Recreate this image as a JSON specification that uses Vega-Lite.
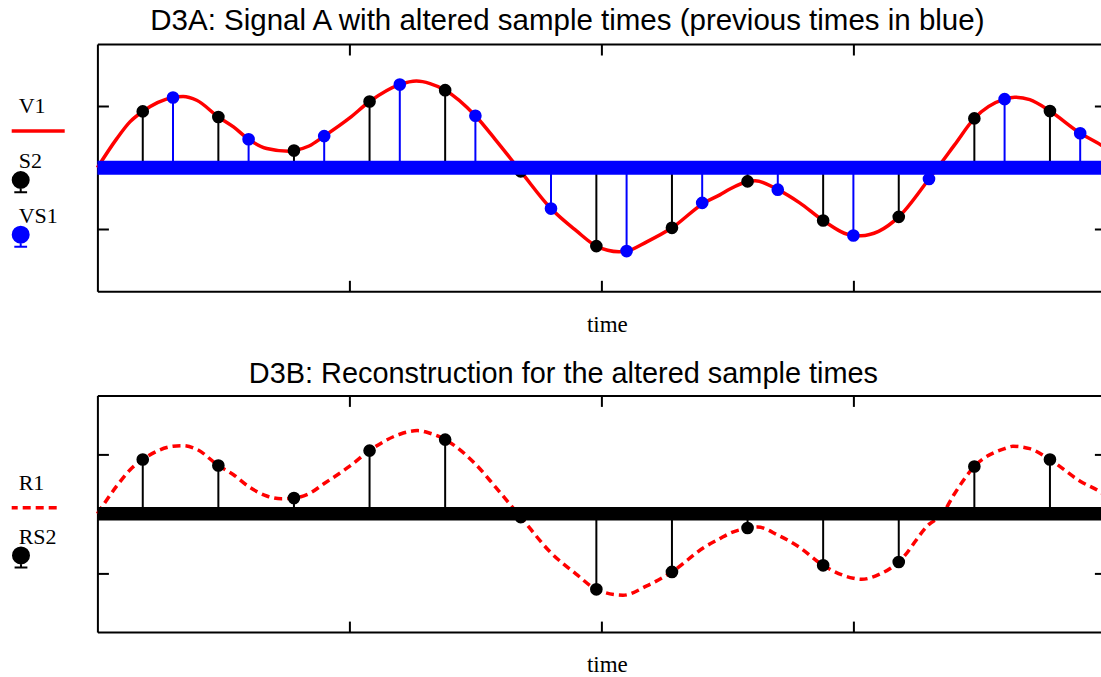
{
  "$schema": "https://vega.github.io/schema/vega-lite/v6.json",
  "background": "white",
  "padding": {"left": 8.7, "top": 6, "right": 0, "bottom": 0},
  "config": {"view": {"stroke": null}, "font": "Liberation Sans", "axis": {"grid": false, "minExtent": 0, "maxExtent": 0}},
  "datasets": {
    "sig": [{"t":0,"v":0},{"t":0.077,"v":0.47},{"t":0.129,"v":0.74},{"t":0.18,"v":0.91},{"t":0.3,"v":1.135},{"t":0.34,"v":1.15},{"t":0.394,"v":1.09},{"t":0.48,"v":0.82},{"t":0.54,"v":0.66},{"t":0.6,"v":0.46},{"t":0.672,"v":0.31},{"t":0.76,"v":0.265},{"t":0.78,"v":0.276},{"t":0.84,"v":0.35},{"t":0.9,"v":0.51},{"t":1.0,"v":0.8},{"t":1.08,"v":1.07},{"t":1.2,"v":1.344},{"t":1.266,"v":1.4},{"t":1.32,"v":1.36},{"t":1.38,"v":1.253},{"t":1.5,"v":0.839},{"t":1.58,"v":0.45},{"t":1.68,"v":-0.06},{"t":1.8,"v":-0.662},{"t":1.9,"v":-1.02},{"t":1.98,"v":-1.269},{"t":2.07,"v":-1.36},{"t":2.1,"v":-1.349},{"t":2.18,"v":-1.2},{"t":2.28,"v":-0.973},{"t":2.407,"v":-0.57},{"t":2.47,"v":-0.44},{"t":2.51,"v":-0.345},{"t":2.586,"v":-0.22},{"t":2.61,"v":-0.21},{"t":2.7,"v":-0.356},{"t":2.787,"v":-0.57},{"t":2.88,"v":-0.855},{"t":3.0,"v":-1.097},{"t":3.03,"v":-1.1},{"t":3.1,"v":-1.03},{"t":3.18,"v":-0.796},{"t":3.3,"v":-0.184},{"t":3.34,"v":0.03},{"t":3.4,"v":0.36},{"t":3.48,"v":0.797},{"t":3.6,"v":1.108},{"t":3.64,"v":1.14},{"t":3.7,"v":1.1},{"t":3.78,"v":0.915},{"t":3.9,"v":0.556},{"t":3.981,"v":0.37},{"t":4.0,"v":0.32}],
    "s2": [{"t":0.18,"v":0.91},{"t":0.48,"v":0.82},{"t":0.78,"v":0.276},{"t":1.08,"v":1.07},{"t":1.38,"v":1.253},{"t":1.68,"v":-0.06},{"t":1.98,"v":-1.269},{"t":2.28,"v":-0.973},{"t":2.58,"v":-0.222},{"t":2.88,"v":-0.855},{"t":3.18,"v":-0.796},{"t":3.48,"v":0.797},{"t":3.78,"v":0.915}],
    "vs1": [{"t":0.3,"v":1.135},{"t":0.6,"v":0.46},{"t":0.9,"v":0.51},{"t":1.2,"v":1.344},{"t":1.5,"v":0.839},{"t":1.8,"v":-0.662},{"t":2.1,"v":-1.349},{"t":2.4,"v":-0.57},{"t":2.7,"v":-0.356},{"t":3.0,"v":-1.097},{"t":3.3,"v":-0.184},{"t":3.6,"v":1.108},{"t":3.9,"v":0.556}],
    "rec": [{"t":0,"v":0},{"t":0.077,"v":0.47},{"t":0.129,"v":0.74},{"t":0.18,"v":0.916},{"t":0.3,"v":1.14},{"t":0.34,"v":1.15},{"t":0.394,"v":1.09},{"t":0.48,"v":0.815},{"t":0.54,"v":0.66},{"t":0.6,"v":0.46},{"t":0.672,"v":0.3},{"t":0.73,"v":0.253},{"t":0.78,"v":0.265},{"t":0.84,"v":0.34},{"t":0.9,"v":0.51},{"t":1.0,"v":0.8},{"t":1.08,"v":1.067},{"t":1.2,"v":1.344},{"t":1.27,"v":1.405},{"t":1.32,"v":1.36},{"t":1.38,"v":1.253},{"t":1.5,"v":0.84},{"t":1.58,"v":0.45},{"t":1.68,"v":-0.056},{"t":1.8,"v":-0.66},{"t":1.9,"v":-1.02},{"t":1.98,"v":-1.277},{"t":2.086,"v":-1.377},{"t":2.18,"v":-1.22},{"t":2.28,"v":-0.983},{"t":2.407,"v":-0.57},{"t":2.47,"v":-0.42},{"t":2.51,"v":-0.33},{"t":2.586,"v":-0.241},{"t":2.62,"v":-0.225},{"t":2.7,"v":-0.36},{"t":2.787,"v":-0.57},{"t":2.88,"v":-0.872},{"t":3.0,"v":-1.09},{"t":3.032,"v":-1.108},{"t":3.1,"v":-1.03},{"t":3.18,"v":-0.815},{"t":3.3,"v":-0.18},{"t":3.354,"v":0.0},{"t":3.4,"v":0.33},{"t":3.48,"v":0.798},{"t":3.6,"v":1.1},{"t":3.633,"v":1.14},{"t":3.7,"v":1.1},{"t":3.78,"v":0.916},{"t":3.9,"v":0.55},{"t":3.981,"v":0.366},{"t":4.0,"v":0.31}],
    "rs2": [{"t":0.18,"v":0.916},{"t":0.48,"v":0.815},{"t":0.78,"v":0.265},{"t":1.08,"v":1.067},{"t":1.38,"v":1.253},{"t":1.68,"v":-0.056},{"t":1.98,"v":-1.277},{"t":2.28,"v":-0.983},{"t":2.58,"v":-0.241},{"t":2.88,"v":-0.872},{"t":3.18,"v":-0.815},{"t":3.48,"v":0.798},{"t":3.78,"v":0.916}],
    "base": [{"level": 0}],
    "legA": [{"name":"V1"},{"name":"S2"},{"name":"VS1"}],
    "legB": [{"name":"R1"},{"name":"RS2"}]
  },
  "columns": 2,
  "align": "each",
  "bounds": "flush",
  "spacing": {"row": 103.4, "column": 32.7},
  "concat": [
    {
      "width": 53,
      "height": 247.3,
      "data": {"name": "legA"},
      "layer": [
        {
          "mark": {"type": "text", "align": "left", "baseline": "alphabetic", "font": "Liberation Serif", "fontSize": 22, "dx": -19.5, "color": "black"},
          "encoding": {
            "y": {"field": "name", "type": "nominal", "scale": {"type": "point", "domain": ["V1","S2","VS1"], "padding": 0, "range": [69.3, 178.7]}, "axis": null},
            "text": {"field": "name", "type": "nominal"}
          }
        },
        {
          "transform": [{"filter": "datum.name === 'V1'"}],
          "mark": {"type": "rule", "color": "red", "strokeWidth": 3.5, "yOffset": 17.7},
          "encoding": {"y": {"field": "name", "type": "nominal", "axis": null}}
        },
        {
          "transform": [{"filter": "datum.name !== 'V1'"}],
          "mark": {"type": "point", "shape": "M0.5,0C0.5,0.276,0.276,0.5,0,0.5C-0.276,0.5,-0.5,0.276,-0.5,0C-0.5,-0.276,-0.276,-0.5,0,-0.5C0.276,-0.5,0.5,-0.276,0.5,0ZM0,0.5L0,0.76M-0.4,0.76L0.4,0.76", "size": 1024, "strokeWidth": 2, "opacity": 1, "xOffset": -17.5, "yOffset": 12},
          "encoding": {
            "y": {"field": "name", "type": "nominal", "axis": null},
            "fill": {"field": "name", "type": "nominal", "scale": {"domain": ["S2","VS1"], "range": ["black","blue"]}, "legend": null},
            "stroke": {"field": "name", "type": "nominal", "scale": {"domain": ["S2","VS1"], "range": ["black","blue"]}, "legend": null}
          }
        }
      ]
    },
    {
      "width": 1008,
      "height": 247.3,
      "title": {"text": "D3A: Signal A with altered sample times (previous times in blue)", "font": "Liberation Sans", "fontSize": 29.5, "fontWeight": "normal", "color": "black", "anchor": "middle", "frame": "group", "baseline": "alphabetic", "offset": -16.6, "dx": -34},
      "layer": [
        {
          "data": {"name": "sig"},
          "mark": {"type": "line", "color": "red", "strokeWidth": 3.5, "interpolate": "monotone"},
          "encoding": {
            "x": {"field": "t", "type": "quantitative", "scale": {"domain": [0, 4], "nice": false, "zero": false},
                  "axis": {"orient": "bottom", "values": [1,2,3], "labels": false, "tickSize": -11, "tickWidth": 2, "tickColor": "black", "domainColor": "black", "domainWidth": 2, "grid": false, "title": "time", "titleFont": "Liberation Serif", "titleFontSize": 23, "titleFontWeight": "normal", "titleColor": "black", "titleBaseline": "alphabetic", "titlePadding": 40, "titleX": 509.5, "titleAlign": "center"}},
            "y": {"field": "v", "type": "quantitative", "scale": {"domain": [-2, 2], "nice": false, "zero": false},
                  "axis": {"orient": "left", "values": [-1,0,1], "labels": false, "tickSize": -11, "tickWidth": 2, "tickColor": "black", "domainColor": "black", "domainWidth": 2, "grid": false, "title": null}}
          }
        },
        {
          "data": {"name": "s2"},
          "mark": {"type": "rule", "color": "black", "strokeWidth": 2},
          "encoding": {
            "x": {"field": "t", "type": "quantitative",
                  "axis": {"orient": "top", "values": [1,2,3], "labels": false, "tickSize": -11, "tickWidth": 2, "tickColor": "black", "domainColor": "black", "domainWidth": 2, "grid": false, "title": null}},
            "y": {"field": "v", "type": "quantitative",
                  "axis": {"orient": "right", "values": [-1,0,1], "labels": false, "tickSize": -11, "tickWidth": 2, "tickColor": "black", "domainColor": "black", "domainWidth": 2, "grid": false, "title": null}},
            "y2": {"datum": 0}
          }
        },
        {
          "data": {"name": "vs1"},
          "mark": {"type": "rule", "color": "blue", "strokeWidth": 2},
          "encoding": {
            "x": {"field": "t", "type": "quantitative", "axis": null},
            "y": {"field": "v", "type": "quantitative", "axis": null},
            "y2": {"datum": 0}
          }
        },
        {
          "data": {"name": "s2"},
          "mark": {"type": "point", "filled": true, "color": "black", "size": 160, "opacity": 1},
          "encoding": {
            "x": {"field": "t", "type": "quantitative", "axis": null},
            "y": {"field": "v", "type": "quantitative", "axis": null}
          }
        },
        {
          "data": {"name": "vs1"},
          "mark": {"type": "point", "filled": true, "color": "blue", "size": 160, "opacity": 1},
          "encoding": {
            "x": {"field": "t", "type": "quantitative", "axis": null},
            "y": {"field": "v", "type": "quantitative", "axis": null}
          }
        },
        {
          "data": {"name": "base"},
          "mark": {"type": "rule", "color": "blue", "strokeWidth": 14},
          "encoding": {
            "y": {"field": "level", "type": "quantitative", "axis": null}
          }
        }
      ],
      "resolve": {"axis": {"x": "independent", "y": "independent"}}
    },
    {
      "width": 45,
      "height": 236.7,
      "data": {"name": "legB"},
      "layer": [
        {
          "mark": {"type": "text", "align": "left", "baseline": "alphabetic", "font": "Liberation Serif", "fontSize": 22, "dx": -15.5, "color": "black"},
          "encoding": {
            "y": {"field": "name", "type": "nominal", "scale": {"type": "point", "domain": ["R1","RS2"], "padding": 0, "range": [95, 148.3]}, "axis": null},
            "text": {"field": "name", "type": "nominal"}
          }
        },
        {
          "transform": [{"filter": "datum.name === 'R1'"}],
          "mark": {"type": "rule", "color": "red", "strokeWidth": 3.5, "strokeDash": [8, 5], "yOffset": 17.3},
          "encoding": {"y": {"field": "name", "type": "nominal", "axis": null}}
        },
        {
          "transform": [{"filter": "datum.name === 'RS2'"}],
          "mark": {"type": "point", "shape": "M0.5,0C0.5,0.276,0.276,0.5,0,0.5C-0.276,0.5,-0.5,0.276,-0.5,0C-0.5,-0.276,-0.276,-0.5,0,-0.5C0.276,-0.5,0.5,-0.276,0.5,0ZM0,0.5L0,0.76M-0.4,0.76L0.4,0.76", "size": 1024, "strokeWidth": 2, "opacity": 1, "fill": "black", "stroke": "black", "xOffset": -13.2, "yOffset": 11.7},
          "encoding": {"y": {"field": "name", "type": "nominal", "axis": null}}
        }
      ]
    },
    {
      "width": 1008,
      "height": 236.7,
      "title": {"text": "D3B: Reconstruction for the altered sample times", "font": "Liberation Sans", "fontSize": 28.9, "fontWeight": "normal", "color": "black", "anchor": "middle", "frame": "group", "baseline": "alphabetic", "offset": -18, "dx": -38},
      "layer": [
        {
          "data": {"name": "rec"},
          "mark": {"type": "line", "color": "red", "strokeWidth": 3.5, "strokeDash": [8, 5], "interpolate": "monotone"},
          "encoding": {
            "x": {"field": "t", "type": "quantitative", "scale": {"domain": [0, 4], "nice": false, "zero": false},
                  "axis": {"orient": "bottom", "values": [1,2,3], "labels": false, "tickSize": -11, "tickWidth": 2, "tickColor": "black", "domainColor": "black", "domainWidth": 2, "grid": false, "title": "time", "titleFont": "Liberation Serif", "titleFontSize": 23, "titleFontWeight": "normal", "titleColor": "black", "titleBaseline": "alphabetic", "titlePadding": 39, "titleX": 509.5, "titleAlign": "center"}},
            "y": {"field": "v", "type": "quantitative", "scale": {"domain": [-2, 2], "nice": false, "zero": false},
                  "axis": {"orient": "left", "values": [-1,0,1], "labels": false, "tickSize": -11, "tickWidth": 2, "tickColor": "black", "domainColor": "black", "domainWidth": 2, "grid": false, "title": null}}
          }
        },
        {
          "data": {"name": "rs2"},
          "mark": {"type": "rule", "color": "black", "strokeWidth": 2},
          "encoding": {
            "x": {"field": "t", "type": "quantitative",
                  "axis": {"orient": "top", "values": [1,2,3], "labels": false, "tickSize": -11, "tickWidth": 2, "tickColor": "black", "domainColor": "black", "domainWidth": 2, "grid": false, "title": null}},
            "y": {"field": "v", "type": "quantitative",
                  "axis": {"orient": "right", "values": [-1,0,1], "labels": false, "tickSize": -11, "tickWidth": 2, "tickColor": "black", "domainColor": "black", "domainWidth": 2, "grid": false, "title": null}},
            "y2": {"datum": 0}
          }
        },
        {
          "data": {"name": "rs2"},
          "mark": {"type": "point", "filled": true, "color": "black", "size": 160, "opacity": 1},
          "encoding": {
            "x": {"field": "t", "type": "quantitative", "axis": null},
            "y": {"field": "v", "type": "quantitative", "axis": null}
          }
        },
        {
          "data": {"name": "base"},
          "mark": {"type": "rule", "color": "black", "strokeWidth": 13.5},
          "encoding": {
            "y": {"field": "level", "type": "quantitative", "axis": null}
          }
        }
      ],
      "resolve": {"axis": {"x": "independent", "y": "independent"}}
    }
  ]
}
